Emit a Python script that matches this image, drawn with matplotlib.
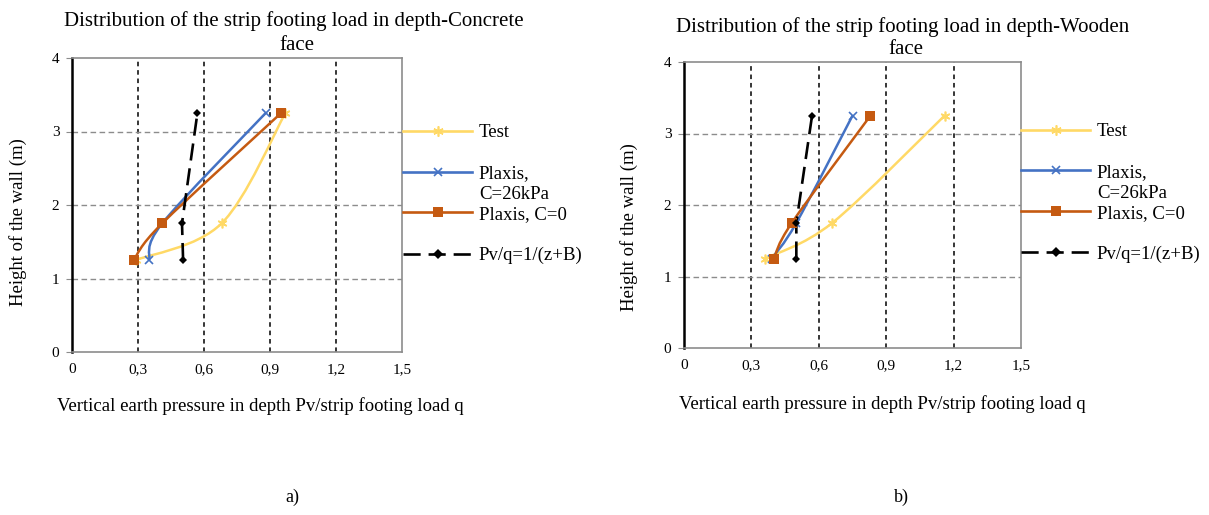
import matplotlib
matplotlib.use("Agg")
import matplotlib.pyplot as plt
import numpy as np
from matplotlib.path import Path
from matplotlib.patches import PathPatch
from matplotlib.lines import Line2D

plt.rcParams['font.family'] = ['Liberation Serif', 'DejaVu Serif']

# wall heights of the measuring points (m)
heights = [1.25, 1.75, 3.25]

# a) concrete face
conc_test = [0.29, 0.68, 0.97]
conc_plaxis_c26 = [0.35, 0.41, 0.88]
conc_plaxis_c0 = [0.28, 0.41, 0.95]
conc_formula = [0.505, 0.50, 0.57]

# b) wooden face
wood_test = [0.36, 0.66, 1.16]
wood_plaxis_c26 = [0.39, 0.50, 0.75]
wood_plaxis_c0 = [0.40, 0.48, 0.83]
wood_formula = [0.50, 0.50, 0.57]

series_names = ['Test', 'Plaxis,', 'Plaxis, C=0', 'Pv/q=1/(z+B)']
x_ticks = [0, 0.3, 0.6, 0.9, 1.2, 1.5]
x_ticklabels = ['0', '0,3', '0,6', '0,9', '1,2', '1,5']
y_ticks = [0, 1, 2, 3, 4]

YELLOW = '#FFD966'
BLUE = '#4472C4'
ORANGE = '#C55A11'
GREY = '#8C8C8C'
W, H = 1209, 515
FS = 13.5


def smooth_path(xs, ys):
    # excel style smoothed line: catmull-rom segments as cubic beziers
    pts = np.column_stack([xs, ys])
    p = np.vstack([pts[0], pts, pts[-1]])
    verts = [pts[0]]
    codes = [Path.MOVETO]
    for i in range(1, len(p) - 2):
        c1 = p[i] + (p[i + 1] - p[i - 1]) / 6
        c2 = p[i + 1] - (p[i + 2] - p[i]) / 6
        verts += [c1, c2, p[i + 1]]
        codes += [Path.CURVE4] * 3
    return Path(verts, codes)


styles = [
    dict(color=YELLOW, marker=(6, 2, 0), ms=7, mew=1.2),
    dict(color=BLUE, marker='x', ms=6, mew=1.2),
    dict(color=ORANGE, marker='s', ms=6.8, mew=0),
    dict(color='black', marker='D', ms=4.5, mew=0),
]
DASH = (0, (6.5, 3))
legends = []


def draw_panel(rect, series, title1, title2, t1_xy, t2_xy, xlab_xy, ylab_xy, leg_xy):
    ax = fig.add_axes(rect)
    for i, xs in enumerate(series):
        st = styles[i]
        if i < 3:
            ax.add_patch(PathPatch(smooth_path(xs, heights), fill=False,
                                   edgecolor=st['color'], lw=1.8, zorder=3))
        else:
            ax.plot(xs, heights, color='black', lw=1.9, linestyle=DASH, zorder=4)
        ax.plot(xs, heights, linestyle='none', marker=st['marker'], color=st['color'],
                ms=st['ms'], mew=st['mew'], zorder=5)

    ax.set_xlim(0, 1.5)
    ax.set_ylim(0, 4)
    ax.set_xticks(x_ticks)
    ax.set_xticklabels(x_ticklabels)
    ax.set_yticks(y_ticks)
    ax.tick_params(axis='x', length=0, pad=8, labelsize=11)
    ax.tick_params(axis='y', length=4, color=GREY, direction='out', pad=5, labelsize=11)
    ax.xaxis.grid(True, color='black', lw=1.1, linestyle=(0, (3, 2.5)))
    ax.yaxis.grid(True, color=GREY, lw=1.0, linestyle=(0, (4, 2.5)))
    for g in (ax.get_xgridlines()[0], ax.get_xgridlines()[-1],
              ax.get_ygridlines()[0], ax.get_ygridlines()[-1]):
        g.set_visible(False)
    for side in ('top', 'right', 'bottom'):
        ax.spines[side].set_color(GREY)
        ax.spines[side].set_linewidth(1.2)
    ax.spines['left'].set_color('black')
    ax.spines['left'].set_linewidth(1.8)

    fig.text(t1_xy[0] / W, 1 - t1_xy[1] / H, title1, ha='center', va='center', fontsize=15)
    fig.text(t2_xy[0] / W, 1 - t2_xy[1] / H, title2, ha='center', va='center', fontsize=15)
    fig.text(xlab_xy[0] / W, 1 - xlab_xy[1] / H,
             'Vertical earth pressure in depth Pv/strip footing load q',
             ha='center', va='center', fontsize=FS)
    fig.text(ylab_xy[0] / W, 1 - ylab_xy[1] / H, 'Height of the wall (m)',
             ha='center', va='center', rotation=90, fontsize=FS)

    handles = []
    for i, st in enumerate(styles):
        handles.append(Line2D([], [], color=st['color'], lw=1.9,
                              linestyle=DASH if i == 3 else '-',
                              marker=st['marker'], ms=st['ms'] * 1.05, mew=st['mew']))
    leg = fig.legend(handles, series_names, loc='upper left',
                     bbox_to_anchor=(leg_xy[0] / W, 1 - leg_xy[1] / H),
                     frameon=False, fontsize=FS, borderpad=0, borderaxespad=0,
                     handlelength=3.68, handletextpad=0.37, labelspacing=1.27)
    legends.append(leg)
    return ax


fig = plt.figure(figsize=(W / 100, H / 100), dpi=100)

draw_panel([72 / W, 1 - 352 / H, 330 / W, 294 / H],
           [conc_test, conc_plaxis_c26, conc_plaxis_c0, conc_formula],
           'Distribution of the strip footing load in depth-Concrete', 'face',
           (294, 21), (297, 45), (260, 406), (18, 222), (403, 124))

draw_panel([684 / W, 1 - 348 / H, 337 / W, 286 / H],
           [wood_test, wood_plaxis_c26, wood_plaxis_c0, wood_formula],
           'Distribution of the strip footing load in depth-Wooden', 'face',
           (903, 27), (906, 50), (882, 404), (629, 227), (1021, 123))

fig.text(292 / W, 1 - 497 / H, 'a)', ha='center', va='center', fontsize=13)
fig.text(901 / W, 1 - 497 / H, 'b)', ha='center', va='center', fontsize=13)

# second line of the wrapped legend label, placed under "Plaxis,"
fig.canvas.draw()
for leg in legends:
    bb = leg.get_texts()[1].get_window_extent()
    fig.text(bb.x0 / W, ((bb.y0 + bb.y1) / 2 - 21) / H, 'C=26kPa',
             ha='left', va='center', fontsize=FS)

fig.savefig('out.png', dpi=100)
